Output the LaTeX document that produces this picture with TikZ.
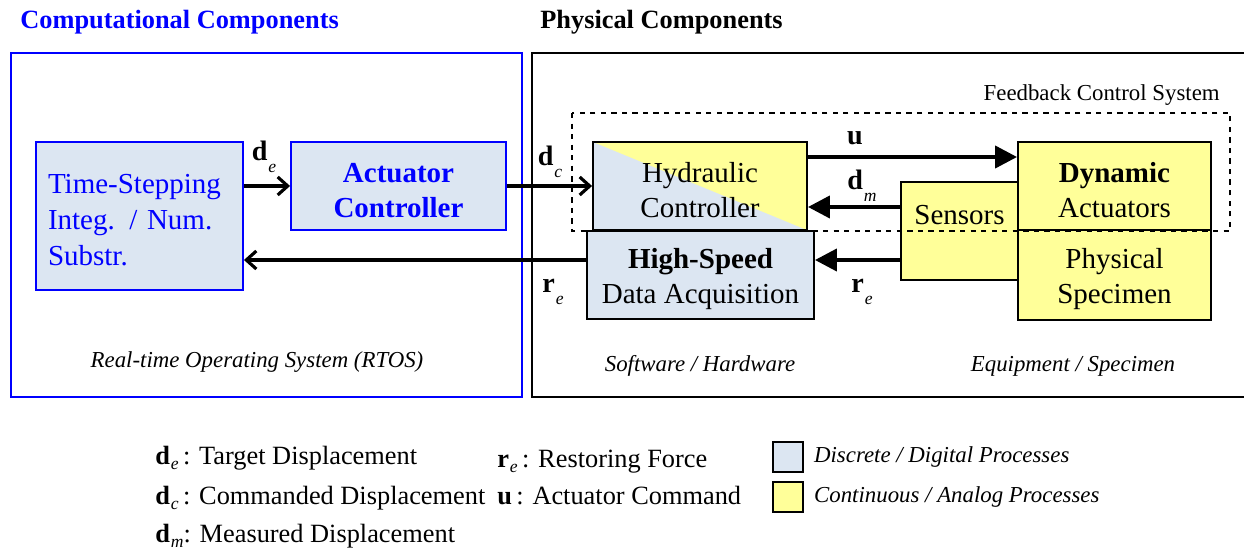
\documentclass[tikz,border=0pt]{standalone}
\usepackage{fontspec}
\setmainfont{Liberation Serif}
\usetikzlibrary{arrows.meta,positioning}
\definecolor{digital}{HTML}{DCE6F2}
\definecolor{analog}{HTML}{FFFF99}
\definecolor{rtblue}{RGB}{0,0,255}
\newcommand{\sig}[3][0.9ex]{\textbf{#2}\kern0.5pt\raisebox{-#1}{\fontsize{10}{10}\selectfont\itshape #3}}
\newcommand{\boxfont}{\fontsize{16.5}{19.7}\selectfont}
\newcommand{\tsifont}{\fontsize{16.5}{20.5}\selectfont}
\newcommand{\notefont}{\fontsize{13}{15}\selectfont\itshape}
\newcommand{\keyfont}{\fontsize{15}{16}\selectfont}
\newcommand{\hi}{\rule{0pt}{16pt}}

\tikzset{
    unitbox/.style={draw, line width=1.1pt, inner sep=0pt, align=center, font=\boxfont},
    digitalbox/.style={unitbox, fill=digital},
    analogbox/.style={unitbox, fill=analog},
    thinarrow/.style={line width=1.8pt, -{Straight Barb[length=0.2cm,width=0.36cm]}},
    fatarrow/.style={line width=2.3pt, -{Triangle[length=0.44cm,width=0.44cm]}},
    siglabel/.style={font=\fontsize{16}{16}\selectfont},
    note/.style={font=\notefont},
    keytext/.style={font=\keyfont, anchor=base west, inner sep=0pt},
}

\begin{document}
\begin{tikzpicture}[x=0.02cm, y=-0.02cm]
    \path[use as bounding box, clip] (0,0) rectangle (1244,550);

    % titles and containers
    \node[anchor=west, inner sep=0pt, text=rtblue, font=\fontsize{15}{15}\selectfont\bfseries] (tcomp) at (20,22) {Computational Components};
    \node[anchor=west, inner sep=0pt, font=\fontsize{15}{15}\selectfont\bfseries] (tphys) at (540,22) {Physical Components};
    \draw[rtblue, line width=1.2pt] (11,53) rectangle (522,397);
    \draw[line width=1.4pt] (532,53) rectangle (1260,397);

    % computational side
    \node[digitalbox, draw=rtblue, text=rtblue, align=left, text width=3.66cm, font=\tsifont,
          inner xsep=0.24cm, minimum height=2.96cm] (tsi) at (139.5,216)
          {\hi Time-Stepping\\Integ. / Num.\\Substr.};
    \node[digitalbox, draw=rtblue, text=rtblue, font=\boxfont\bfseries,
          minimum width=4.3cm, minimum height=1.76cm] (actc) at (398.5,186) {\hi Actuator\\Controller};

    % physical side
    \node[unitbox, fill=digital, minimum width=4.28cm, minimum height=1.76cm,
          path picture={\fill[analog] (path picture bounding box.north west)
              -- (path picture bounding box.north east)
              -- (path picture bounding box.south east) -- cycle;}] (hyd) at (700,186) {\hi Hydraulic\\Controller};
    \node[digitalbox, minimum width=4.54cm, minimum height=1.76cm] (hsd) at (700.5,275) {\hi\textbf{High-Speed}\\Data Acquisition};
    \node[analogbox, minimum width=2.34cm, minimum height=1.96cm,
          label={[font=\boxfont, yshift=0.32cm]center:Sensors}] (sens) at (959.5,231) {};
    \node[analogbox, minimum width=3.86cm, minimum height=1.76cm] (dyn) at (1114.5,186) {\hi\textbf{Dynamic}\\Actuators};
    \node[analogbox, minimum width=3.86cm, minimum height=1.8cm] (spec) at (1114.5,275) {\hi Physical\\Specimen};

    \draw[dashed, line width=0.6pt] (572,113) rectangle (1230,231);
    \node[anchor=east, inner sep=0pt, font=\fontsize{13}{13}\selectfont] (fcs) at (1220,95) {Feedback Control System};

    % signals
    \draw[thinarrow] (tsi.east |- actc.west) -- (actc.west);
    \draw[thinarrow] (actc.east) -- (hyd.west);
    \coordinate (uout) at ([yshift=0.58cm]hyd.east);
    \draw[fatarrow] (uout) -- (uout -| dyn.west);
    \coordinate (dmin) at ([yshift=-0.42cm]hyd.east);
    \draw[fatarrow] (dmin -| sens.west) -- (dmin);
    \coordinate (rein) at ([yshift=0.3cm]hsd.east);
    \draw[fatarrow] (rein -| sens.west) -- (rein);
    \coordinate (reout) at ([yshift=0.3cm]hsd.west);
    \draw[thinarrow] (reout) -- (reout -| tsi.east);

    \node[siglabel] (lde) at (264,157) {\sig{d}{e}};
    \node[siglabel] (ldc) at (550,162) {\sig{d}{c}};
    \node[siglabel] (lu) at (855,138) {\textbf{u}};
    \node[siglabel] (ldm) at (862,186) {\sig{d}{m}};
    \node[siglabel] (lrl) at (553,292) {\sig{r}{e}};
    \node[siglabel] (lrr) at (862,292) {\sig{r}{e}};

    % bottom notes
    \node[note] (rtos) at (257,362) {Real-time Operating System (RTOS)};
    \node[note] (swhw) at (700,366) {Software / Hardware};
    \node[note] (eqsp) at (1073,366) {Equipment / Specimen};

    % legend
    \node[keytext] (kde) at (155,464) {\sig[0.45ex]{d}{e}\,: Target Displacement};
    \node[keytext] (kdc) at (155,504) {\sig[0.45ex]{d}{c}\,: Commanded Displacement};
    \node[keytext] (kdm) at (155,542) {\sig[0.45ex]{d}{m}: Measured Displacement};
    \node[keytext] (kre) at (497,467) {\sig[0.45ex]{r}{e}\,: Restoring Force};
    \node[keytext] (ku) at (497,504) {\textbf{u}\,: Actuator Command};
    \node[draw, fill=digital, line width=0.9pt, minimum size=0.6cm, inner sep=0pt] (kdig) at (788,457) {};
    \node[draw, fill=analog, line width=0.9pt, minimum size=0.6cm, inner sep=0pt] (kana) at (788,497) {};
    \node[note, right=0.2cm of kdig, inner sep=0pt] (tdig) {Discrete / Digital Processes};
    \node[note, right=0.2cm of kana, inner sep=0pt] (tana) {Continuous / Analog Processes};
\end{tikzpicture}
\end{document}
